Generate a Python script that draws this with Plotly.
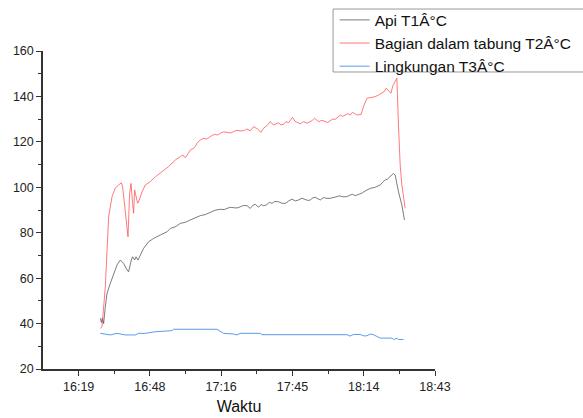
import plotly.graph_objects as go
import pandas as pd

BASE = pd.Timestamp("2023-01-01")

# time in minutes since midnight, values in °C
t2_min = [987.96, 988.65, 989.98, 990.67, 991.32, 992.69, 994.02, 995.36, 996.45, 996.97,
          998.34, 999.15, 999.8, 1000.36, 1001.01, 1001.41, 1001.82, 1002.38, 1003.03, 1003.72,
          1004.81, 1006.14, 1008.16, 1010.18, 1012.88, 1015.55, 1018.26, 1019.3, 1020.27, 1021.3,
          1022.29, 1023.3, 1024.31, 1025.65, 1026.4, 1027.02, 1028.3, 1029.68, 1031.0, 1032.39,
          1033.4, 1034.41, 1035.4, 1036.43, 1037.8, 1039.14, 1040.5, 1041.8, 1043.2, 1044.51,
          1045.9, 1047.21, 1048.55, 1049.88, 1051.49, 1052.87, 1053.92, 1055.29, 1056.62, 1057.96,
          1059.98, 1060.9, 1062.0, 1063.0, 1064.01, 1065.63, 1066.72, 1067.7, 1068.74, 1070.07,
          1071.4, 1072.78, 1073.6, 1074.52, 1075.3, 1076.13, 1077.5, 1078.84, 1079.8, 1080.86,
          1081.9, 1082.87, 1083.9, 1084.9, 1085.9, 1086.91, 1087.9, 1088.93, 1089.86, 1091.64,
          1093.38, 1094.3, 1095.68, 1097.7, 1099.03, 1100.36, 1101.33, 1102.66, 1103.47, 1104.4,
          1105.37, 1106.18, 1106.83, 1107.51, 1107.79, 1108.44, 1109.13, 1109.81, 1110.46, 1111.15]
t2_val = [37.9, 38.6, 56.2, 75.5, 87.0, 95.8, 99.7, 101.0, 102.0, 100.2,
          87.0, 78.2, 97.3, 101.7, 93.0, 88.6, 98.8, 95.8, 93.0, 94.4,
          98.0, 101.0, 102.5, 104.6, 106.9, 109.1, 112.0, 112.6, 113.5, 114.2,
          113.0, 114.6, 116.4, 117.2, 118.0, 119.4, 120.8, 121.6, 121.2, 122.3,
          123.0, 123.3, 123.0, 123.8, 124.4, 124.2, 123.9, 124.5, 125.1, 124.8,
          124.9, 125.7, 124.8, 126.7, 125.7, 124.2, 126.0, 127.1, 128.9, 127.4,
          128.4, 127.5, 127.7, 128.9, 128.4, 130.8, 128.9, 128.5, 127.9, 128.9,
          128.2, 128.9, 129.4, 130.4, 129.6, 128.9, 129.5, 128.9, 128.5, 129.3,
          130.0, 129.9, 130.9, 131.8, 131.2, 131.8, 132.4, 131.8, 133.0, 131.8,
          132.1, 135.5, 139.2, 139.6, 139.9, 140.6, 141.4, 142.1, 143.6, 142.4,
          141.4, 144.7, 145.8, 147.2, 148.0, 127.4, 109.8, 101.0, 96.6, 90.7]

t1_min = [987.96, 988.4, 988.8, 989.3, 989.98, 990.67, 992.0, 993.34, 994.71, 996.04,
          997.37, 998.75, 999.39, 1000.48, 1001.01, 1001.82, 1002.38, 1003.19, 1004.12, 1005.45,
          1007.47, 1009.49, 1012.2, 1014.9, 1016.24, 1018.3, 1020.27, 1022.3, 1024.31, 1026.3,
          1028.35, 1030.4, 1032.39, 1034.4, 1036.43, 1038.0, 1039.14, 1040.5, 1041.8, 1043.2,
          1044.51, 1045.8, 1047.21, 1048.55, 1049.5, 1050.57, 1051.9, 1052.9, 1053.92, 1055.0,
          1056.34, 1057.31, 1058.5, 1059.98, 1061.3, 1062.68, 1064.0, 1065.39, 1066.8, 1068.05,
          1069.4, 1070.76, 1071.8, 1072.78, 1073.8, 1074.8, 1075.8, 1076.82, 1078.2, 1079.52,
          1081.2, 1082.87, 1084.5, 1086.23, 1087.6, 1088.93, 1089.9, 1090.95, 1092.0, 1092.97,
          1094.0, 1094.99, 1096.0, 1097.01, 1099.0, 1101.05, 1102.0, 1103.07, 1104.0, 1105.09,
          1106.42, 1107.11, 1108.44, 1109.81, 1110.86]
t1_val = [42.3, 40.5, 42.5, 40.0, 47.4, 53.3, 57.7, 62.1, 65.8, 68.0,
          66.5, 63.6, 62.8, 68.0, 69.4, 68.0, 69.4, 68.0, 70.2, 73.1,
          76.0, 77.5, 79.0, 80.4, 81.9, 82.6, 84.1, 84.6, 85.6, 86.7,
          87.5, 88.0, 89.0, 89.9, 90.3, 90.2, 90.7, 91.2, 91.0, 90.9,
          91.4, 92.0, 91.9, 90.7, 92.0, 92.5, 91.2, 92.4, 91.9, 92.2,
          93.4, 92.9, 93.8, 93.6, 93.0, 92.9, 93.9, 94.8, 94.0, 94.4,
          95.2, 94.8, 94.2, 94.4, 95.3, 95.6, 94.9, 94.4, 95.5, 95.1,
          95.2, 95.8, 96.2, 95.8, 95.9, 96.6, 96.9, 96.3, 96.7, 97.3,
          97.6, 98.4, 98.9, 99.5, 100.0, 101.0, 102.2, 103.2, 103.6, 104.7,
          106.1, 105.4, 98.0, 92.2, 85.6]

t3_min = [987.96, 992.0, 994.71, 998.06, 1002.1, 1003.43, 1006.14, 1010.18, 1016.92, 1017.57,
          1035.1, 1037.76, 1041.8, 1043.17, 1044.51, 1052.58, 1053.27, 1087.6, 1088.93, 1090.27,
          1092.97, 1094.3, 1095.68, 1097.01, 1098.34, 1101.05, 1105.78, 1106.42, 1107.79, 1108.44,
          1110.46]
t3_val = [35.7, 35.0, 35.7, 35.0, 35.0, 35.7, 35.7, 36.4, 36.9, 37.5,
          37.5, 35.7, 35.4, 35.0, 35.7, 35.7, 35.1, 35.1, 34.5, 35.2,
          35.2, 34.6, 34.6, 35.4, 35.1, 33.6, 33.6, 33.0, 33.5, 33.0,
          33.0]

names = ["Api T1Â°C", "Bagian dalam tabung T2Â°C", "Lingkungan T3Â°C"]
tick_labels = ["16:19", "16:48", "17:16", "17:45", "18:14", "18:43"]
tick_minutes = [979.2, 1008.0, 1036.8, 1065.6, 1094.4, 1123.2]
minor_minutes = [993.6, 1022.4, 1051.2, 1080.0, 1108.8]
x_range_min = [964.8, 1123.2]


def to_time(mins):
    return BASE + pd.to_timedelta(pd.Series(mins), unit="min")


fig = go.Figure()
fig.add_trace(go.Scatter(x=to_time(t1_min), y=t1_val, mode="lines", name=names[0],
                         line=dict(color="#444444", width=0.7)))
fig.add_trace(go.Scatter(x=to_time(t2_min), y=t2_val, mode="lines", name=names[1],
                         line=dict(color="#ff4040", width=0.7)))
fig.add_trace(go.Scatter(x=to_time(t3_min), y=t3_val, mode="lines", name=names[2],
                         line=dict(color="#5b9bf0", width=1.0)))

tick_times = list(to_time(tick_minutes))
xr = list(to_time(x_range_min))

fig.update_layout(
    width=583, height=418,
    margin=dict(l=43, r=148, t=51, b=49, autoexpand=False),
    paper_bgcolor="white", plot_bgcolor="white",
    font=dict(family="Liberation Sans, Arial, sans-serif", color="#222", size=12),
    showlegend=True,
    legend=dict(x=0.744, y=1.150, xanchor="left", yanchor="top",
                bgcolor="rgba(0,0,0,0)", borderwidth=0,
                font=dict(size=15.5, color="#111"), tracegroupgap=0,
                itemwidth=30),
    shapes=[dict(type="rect", xref="paper", yref="paper", x0=0.740, x1=1.45,
                 y0=0.934, y1=1.132, line=dict(color="#999", width=1),
                 fillcolor="white", layer="below")],
)
fig.update_xaxes(
    type="date", range=xr, tickmode="array", tickvals=tick_times, ticktext=tick_labels,
    showgrid=False, zeroline=False, showline=True, linecolor="#333", linewidth=1.5,
    ticks="outside", ticklen=5, tickwidth=1.2, tickcolor="#333",
    minor=dict(ticks="outside", ticklen=3, tickcolor="#333", tickwidth=1,
               tickmode="array", tickvals=list(to_time(minor_minutes))),
    title=dict(text="Waktu", font=dict(size=16, color="#111"), standoff=8),
    tickfont=dict(size=12.5, color="#222"),
)
fig.update_yaxes(
    range=[20, 160], tickmode="linear", tick0=20, dtick=20,
    showgrid=False, zeroline=False, showline=True, linecolor="#333", linewidth=1.5,
    ticks="outside", ticklen=5, tickwidth=1.2, tickcolor="#333",
    minor=dict(ticks="outside", ticklen=3, tickcolor="#333", tickwidth=1, dtick=10),
    tickfont=dict(size=12.5, color="#222"),
)

fig.write_html("out.html", config={"displayModeBar": False},
               post_script="document.body.style.margin='0';")
